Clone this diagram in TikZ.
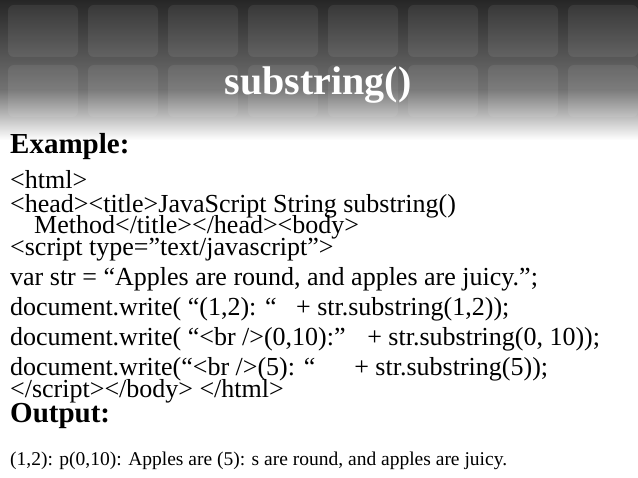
\documentclass[tikz,border=0pt]{standalone}
\usepackage{fontspec}
\setmainfont{Liberation Serif}
\begin{document}
\begin{tikzpicture}[x=1pt,y=-1pt,
  line/.style={anchor=base west,inner sep=0pt,font=\fontsize{26}{26}\selectfont},
  head/.style={anchor=base west,inner sep=0pt,font=\fontsize{29}{29}\selectfont\bfseries},
  tile/.style={rounded corners=6pt,fill=white,fill opacity=0.07}]
\useasboundingbox (0,0) rectangle (638,478);
\fill[white] (0,0) rectangle (638,478);
\shade[top color=black!85,bottom color=black!55] (0,0) rectangle (638,90);
\shade[top color=black!55,bottom color=white] (0,90) rectangle (638,140);
\foreach \i in {0,...,7}{\foreach \j in {0,1}{
  \fill[tile] (\i*80+8,\j*60+5) rectangle ++(70,52);}}
\node[anchor=base,inner sep=0pt,text=white,font=\fontsize{40}{40}\selectfont\bfseries] (title) at (318,95) {substring()};
\node[head] (ex) at (10,154) {Example:};
\node[line] (l1) at (10,189) {<html>};
\node[line] (l2) at (10,213) {<head><title>JavaScript String substring()};
\node[line] (l3) at (34,234) {Method</title></head><body>};
\node[line] (l4) at (10,256) {<script type=”text/javascript”>};
\node[line] (l5) at (10,286) {var str = “Apples are round, and apples are juicy.”;};
\node[line] (l6) at (10,316) {document.write( “(1,2): “ \ \ + str.substring(1,2));};
\node[line] (l7) at (10,346) {document.write( “<br />(0,10):” \ \ + str.substring(0, 10));};
\node[line] (l8) at (10,376) {document.write(“<br />(5): “ \ \ \ \ \ + str.substring(5));};
\node[line] (l9) at (10,398) {</script></body> </html>};
\node[head] (out) at (10,423) {Output:};
\node[line,font=\fontsize{19.5}{19.5}\selectfont] (l11) at (10,466) {(1,2): p(0,10): Apples are (5): s are round, and apples are juicy.};
\end{tikzpicture}
\end{document}
